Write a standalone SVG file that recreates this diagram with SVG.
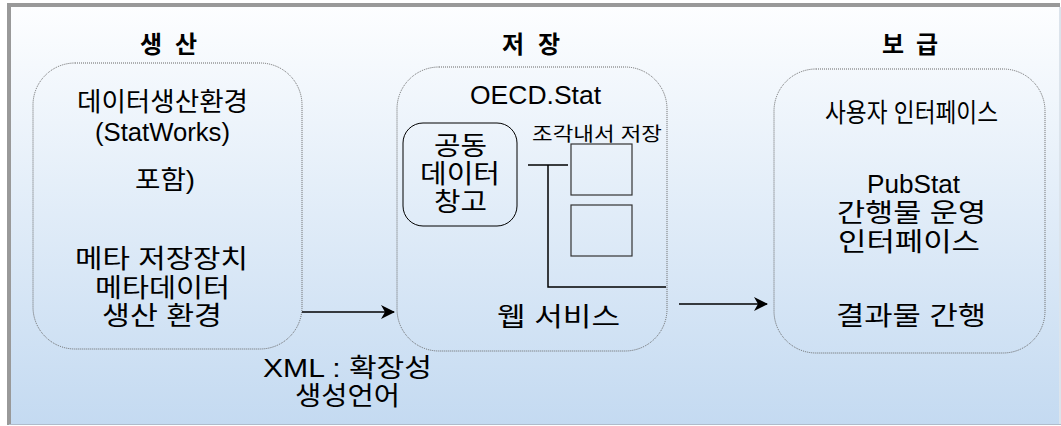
<svg xmlns="http://www.w3.org/2000/svg" width="1061" height="426" viewBox="0 0 1061 426">
<defs>
<linearGradient id="bg" x1="0" y1="0" x2="0" y2="1">
<stop offset="0" stop-color="#fdfeff"/>
<stop offset="1" stop-color="#c4daf1"/>
</linearGradient>
<marker id="ah" markerWidth="14" markerHeight="14" refX="13" refY="7" orient="auto" markerUnits="userSpaceOnUse">
<path d="M0,0 L14,7 L0,14 L4,7 Z" fill="#000"/>
</marker>
<style>
text{font-family:"Liberation Sans","Noto Sans CJK KR",sans-serif;fill:#000;text-anchor:middle}
.t{font-size:26px}
.h{font-size:24px;font-weight:bold}
.s{font-size:19px}
.grp{fill:none;stroke:#666;stroke-width:1;stroke-dasharray:1 1}
.ln{stroke:#000;stroke-width:1.5;fill:none}
</style>
</defs>
<rect x="9" y="5" width="1050" height="420" fill="url(#bg)"/>
<line x1="7" y1="5" x2="1060" y2="5" stroke="#999" stroke-width="4"/>
<line x1="9" y1="3" x2="9" y2="425" stroke="#999" stroke-width="4"/>
<line x1="1060" y1="7" x2="1060" y2="425" stroke="#b8c8d8" stroke-width="1"/>
<line x1="9" y1="424.5" x2="1061" y2="424.5" stroke="#b0bccb" stroke-width="1"/>

<g id="production">
<text class="h" x="168.5" y="53" textLength="57" lengthAdjust="spacing">생산</text>
<rect class="grp" x="33" y="63" width="269" height="286" rx="42"/>
<text class="t" x="162.5" y="111" textLength="171" lengthAdjust="spacingAndGlyphs">데이터생산환경</text>
<text class="t" x="162.5" y="141" textLength="135" lengthAdjust="spacingAndGlyphs">(StatWorks)</text>
<text class="t" x="165" y="189" textLength="60" lengthAdjust="spacingAndGlyphs">포함)</text>
<text class="t" x="161.5" y="268" textLength="173" lengthAdjust="spacingAndGlyphs">메타 저장장치</text>
<text class="t" x="162.5" y="297" textLength="135" lengthAdjust="spacingAndGlyphs">메타데이터</text>
<text class="t" x="162" y="325" textLength="120" lengthAdjust="spacingAndGlyphs">생산 환경</text>
</g>

<g id="storage">
<text class="h" x="531" y="53" textLength="58" lengthAdjust="spacing">저장</text>
<rect class="grp" x="397" y="67" width="270" height="284" rx="42"/>
<text class="t" x="535.5" y="104" textLength="131" lengthAdjust="spacingAndGlyphs">OECD.Stat</text>
<g id="common-data-warehouse">
<rect x="403" y="123" width="114" height="103" rx="20" fill="none" stroke="#000" stroke-width="1"/>
<text class="t" x="460.5" y="155" textLength="53" lengthAdjust="spacingAndGlyphs">공동</text>
<text class="t" x="460" y="183" textLength="80" lengthAdjust="spacingAndGlyphs">데이터</text>
<text class="t" x="460.5" y="211" textLength="53" lengthAdjust="spacingAndGlyphs">창고</text>
</g>
<g id="fragment-storage">
<text class="s" x="597" y="141" textLength="130" lengthAdjust="spacingAndGlyphs">조각내서 저장</text>
<rect x="571" y="144" width="61" height="51" fill="none" stroke="#333" stroke-width="1.2"/>
<rect x="571" y="205" width="61" height="51" fill="none" stroke="#333" stroke-width="1.2"/>
</g>
<text class="t" x="558.5" y="326" textLength="123" lengthAdjust="spacingAndGlyphs">웹 서비스</text>
</g>

<g id="dissemination">
<text class="h" x="910" y="53" textLength="56" lengthAdjust="spacing">보급</text>
<rect class="grp" x="774" y="69" width="271" height="284" rx="42"/>
<text class="t" x="911.5" y="122" textLength="173" lengthAdjust="spacingAndGlyphs">사용자 인터페이스</text>
<text class="t" x="913.5" y="193" textLength="93" lengthAdjust="spacingAndGlyphs">PubStat</text>
<text class="t" x="911.5" y="222" textLength="149" lengthAdjust="spacingAndGlyphs">간행물 운영</text>
<text class="t" x="909" y="251" textLength="142" lengthAdjust="spacingAndGlyphs">인터페이스</text>
<text class="t" x="911" y="325" textLength="150" lengthAdjust="spacingAndGlyphs">결과물 간행</text>
</g>

<g id="connectors">
<line class="ln" x1="302" y1="312" x2="394" y2="312" marker-end="url(#ah)"/>
<line class="ln" x1="679" y1="304" x2="767" y2="304" marker-end="url(#ah)"/>
<polyline class="ln" points="528,165 568,165"/>
<polyline class="ln" points="548,165 548,287 666,287"/>
</g>

<g id="xml-label">
<text class="t" x="347.5" y="377" textLength="169" lengthAdjust="spacingAndGlyphs">XML : 확장성</text>
<text class="t" x="347.5" y="405" textLength="105" lengthAdjust="spacingAndGlyphs">생성언어</text>
</g>
</svg>
